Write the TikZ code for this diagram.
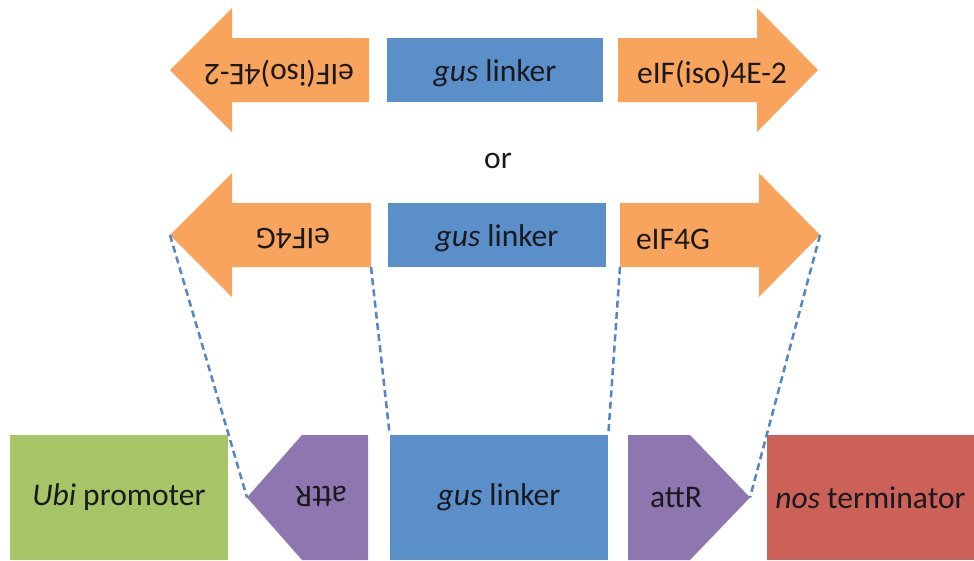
\documentclass[tikz,border=0pt]{standalone}
\usepackage{fontspec}
\usepackage{tikz}
\usepackage{xcolor}
\setmainfont{Carlito}
\usetikzlibrary{positioning}
\definecolor{geneOrange}{RGB}{248,164,92}
\definecolor{geneBlue}{RGB}{90,143,202}
\definecolor{geneGreen}{RGB}{166,197,103}
\definecolor{genePurple}{RGB}{142,118,176}
\definecolor{geneRed}{RGB}{204,97,88}
\definecolor{geneDash}{RGB}{84,134,192}
\definecolor{geneInk}{RGB}{25,25,30}

\begin{document}
\begin{tikzpicture}[x=0.025cm, y=-0.025cm,
      part/.style={inner sep=0pt, minimum height=1.6cm, font=\fontsize{22.4}{26}\selectfont, text=geneInk},
      block/.style={inner sep=0pt, minimum height=3.125cm, font=\fontsize{22.4}{26}\selectfont, text=geneInk},
      tag/.style={inner sep=0pt, font=\fontsize{22.4}{26}\selectfont, text=geneInk},
      link/.style={draw=geneDash, line width=1.8pt, dash pattern=on 5pt off 3pt}
    ]
    \useasboundingbox (0,0) rectangle (974,560);

    % first fusion: eIF(iso)4E-2
    \fill[geneOrange] (369,38) -- (232,38) -- (232,8) -- (170,70) -- (232,132) -- (232,102) -- (369,102) -- cycle;
    \fill[geneOrange] (618,38) -- (757,38) -- (757,8) -- (818,70) -- (757,132) -- (757,102) -- (618,102) -- cycle;
    \node[tag, rotate=180] (isoL) at (279,74) {eIF(iso)4E-2};
    \node[part, fill=geneBlue, minimum width=5.4cm] (gusA) at (495,70) {};
    \node[tag] (gusAtext) at (495,73) {\textit{gus} linker};
    \node[tag] (isoR) at (712,74) {eIF(iso)4E-2};

    \node[tag] (or) at (498,161) {or};

    % second fusion: eIF4G
    \fill[geneOrange] (371,203) -- (232,203) -- (232,173) -- (170,235) coordinate (fourLtip) -- (232,297) -- (232,267) -- (371,267) coordinate (fourLend) -- cycle;
    \fill[geneOrange] (620,203) -- (759,203) -- (759,173) -- (820,235) coordinate (fourRtip) -- (759,297) -- (759,267) -- (620,267) coordinate (fourRend) -- cycle;
    \node[tag, rotate=180] (fourL) at (293,239) {eIF4G};
    \node[part, fill=geneBlue, minimum width=5.45cm] (gusB) at (497,235) {};
    \node[tag] (gusBtext) at (497,238) {\textit{gus} linker};
    \node[tag] (fourR) at (673,239) {eIF4G};

    % vector
    \node[block, fill=geneGreen, minimum width=5.45cm] (ubi) at (119,497.5) {\textit{Ubi} promoter};
    \fill[genePurple] (368,435) -- (302,435) -- (247,497.5) coordinate (attLtip) -- (302,560) -- (368,560) -- cycle;
    \node[tag, rotate=180] (attL) at (321,496) {attR};
    \node[block, fill=geneBlue, minimum width=5.45cm] (gusC) at (499,497.5) {\textit{gus} linker};
    \fill[genePurple] (628,435) -- (690,435) -- (750,497.5) coordinate (attRtip) -- (690,560) -- (628,560) -- cycle;
    \node[tag] (attR) at (676,498) {attR};
    \node[block, fill=geneRed, minimum width=5.175cm] (nos) at (870.5,497.5) {\textit{nos} terminator};

    \draw[link] (fourLtip) -- (attLtip);
    \draw[link] (fourLend) -- (gusC.north west);
    \draw[link] (fourRend) -- (gusC.north east);
    \draw[link] (fourRtip) -- (attRtip);
  \end{tikzpicture}
\end{document}
